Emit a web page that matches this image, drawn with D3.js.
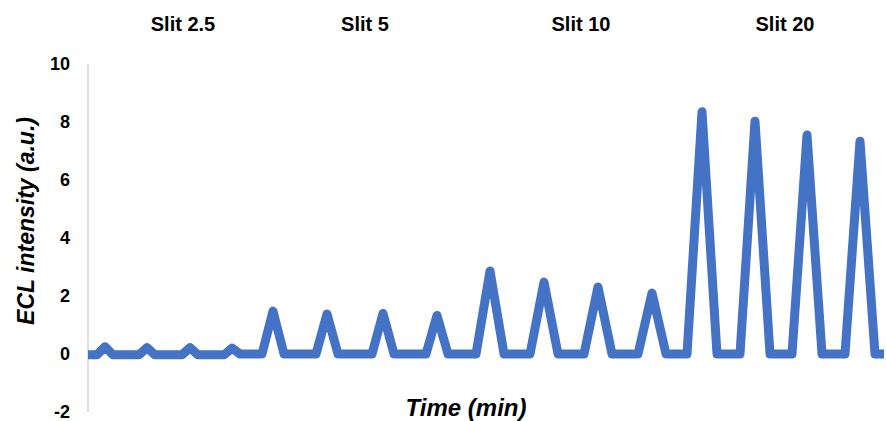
<!DOCTYPE html>
<html>
<head>
<meta charset="utf-8">
<script src="https://cdn.jsdelivr.net/npm/d3@7"></script>
<style>
  html, body { margin: 0; padding: 0; background: #fff; }
  svg { display: block; font-family: Arial, "Liberation Sans", sans-serif; }
</style>
</head>
<body>
<svg id="chart" width="886" height="421"></svg>
<script>
// Tick labels of the intensity axis
const yTicks = [-2, 0, 2, 4, 6, 8, 10];
// Group labels
const groupLabels = ["Slit 2.5", "Slit 5", "Slit 10", "Slit 20"];
const groupLabelTimes = [9.5, 27.7, 49.3, 69.7];

// Trace vertices [time, ECL intensity], one list per slit group
const slit25 = [
  [0.0, -0.03], [0.9, -0.03], [1.7, 0.25], [2.5, -0.03],
  [5.1, -0.03], [5.9, 0.22], [6.7, -0.03],
  [9.4, -0.03], [10.2, 0.22], [11.0, -0.03],
  [13.6, -0.03], [14.4, 0.2], [15.2, 0.0]
];
const slit5 = [
  [17.4, 0.0], [18.5, 1.48], [19.6, 0.0],
  [22.8, 0.0], [23.9, 1.38], [25.0, 0.0],
  [28.4, 0.0], [29.5, 1.4], [30.6, 0.0],
  [33.8, 0.0], [34.9, 1.33], [36.0, 0.0]
];
const slit10 = [
  [38.8, 0.0], [40.2, 2.86], [41.6, 0.0],
  [44.2, 0.0], [45.6, 2.48], [47.0, 0.0],
  [49.6, 0.0], [51.0, 2.31], [52.4, 0.0],
  [55.0, 0.0], [56.4, 2.1], [57.8, 0.0]
];
const slit20 = [
  [59.9, 0.0], [61.4, 8.35], [62.9, 0.0],
  [65.2, 0.0], [66.7, 8.03], [68.2, 0.0],
  [70.4, 0.0], [71.9, 7.55], [73.4, 0.0],
  [75.7, 0.0], [77.2, 7.34], [78.7, 0.0], [79.6, 0.0]
];

const trace = slit25.concat(slit5, slit10, slit20);

const svg = d3.select("#chart");
const x = d3.scaleLinear().domain([0, 79.6]).range([88, 884]);
const y = d3.scaleLinear().domain([-2, 10]).range([412, 64]);

// Y axis line
svg.append("line")
  .attr("x1", x(0)).attr("x2", x(0))
  .attr("y1", y(10)).attr("y2", y(-2))
  .attr("stroke", "#bfbfbf").attr("stroke-width", 1);

// Y tick labels
svg.append("g").selectAll("text").data(yTicks).join("text")
  .attr("x", 70)
  .attr("y", d => y(d))
  .attr("dy", "0.35em")
  .attr("text-anchor", "end")
  .attr("font-size", 18)
  .attr("font-weight", "bold")
  .attr("fill", "#000")
  .text(d => d);

// Trace
const line = d3.line().x(d => x(d[0])).y(d => y(d[1]));
svg.append("path")
  .datum(trace)
  .attr("d", line)
  .attr("fill", "none")
  .attr("stroke", "#4472c4")
  .attr("stroke-width", 9)
  .attr("stroke-linejoin", "round")
  .attr("stroke-linecap", "butt");

// Group labels
svg.append("g").selectAll("text").data(groupLabels).join("text")
  .attr("x", (d, i) => x(groupLabelTimes[i]))
  .attr("y", 31)
  .attr("text-anchor", "middle")
  .attr("font-size", 20)
  .attr("font-weight", "bold")
  .attr("fill", "#000")
  .text(d => d);

// Axis titles
svg.append("text")
  .attr("x", 466).attr("y", 416)
  .attr("text-anchor", "middle")
  .attr("font-size", 24)
  .attr("font-weight", "bold")
  .attr("font-style", "italic")
  .attr("fill", "#000")
  .text("Time (min)");

svg.append("text")
  .attr("transform", "translate(34,221) rotate(-90)")
  .attr("text-anchor", "middle")
  .attr("font-size", 23)
  .attr("font-weight", "bold")
  .attr("font-style", "italic")
  .attr("fill", "#000")
  .text("ECL intensity (a.u.)");
</script>
</body>
</html>
